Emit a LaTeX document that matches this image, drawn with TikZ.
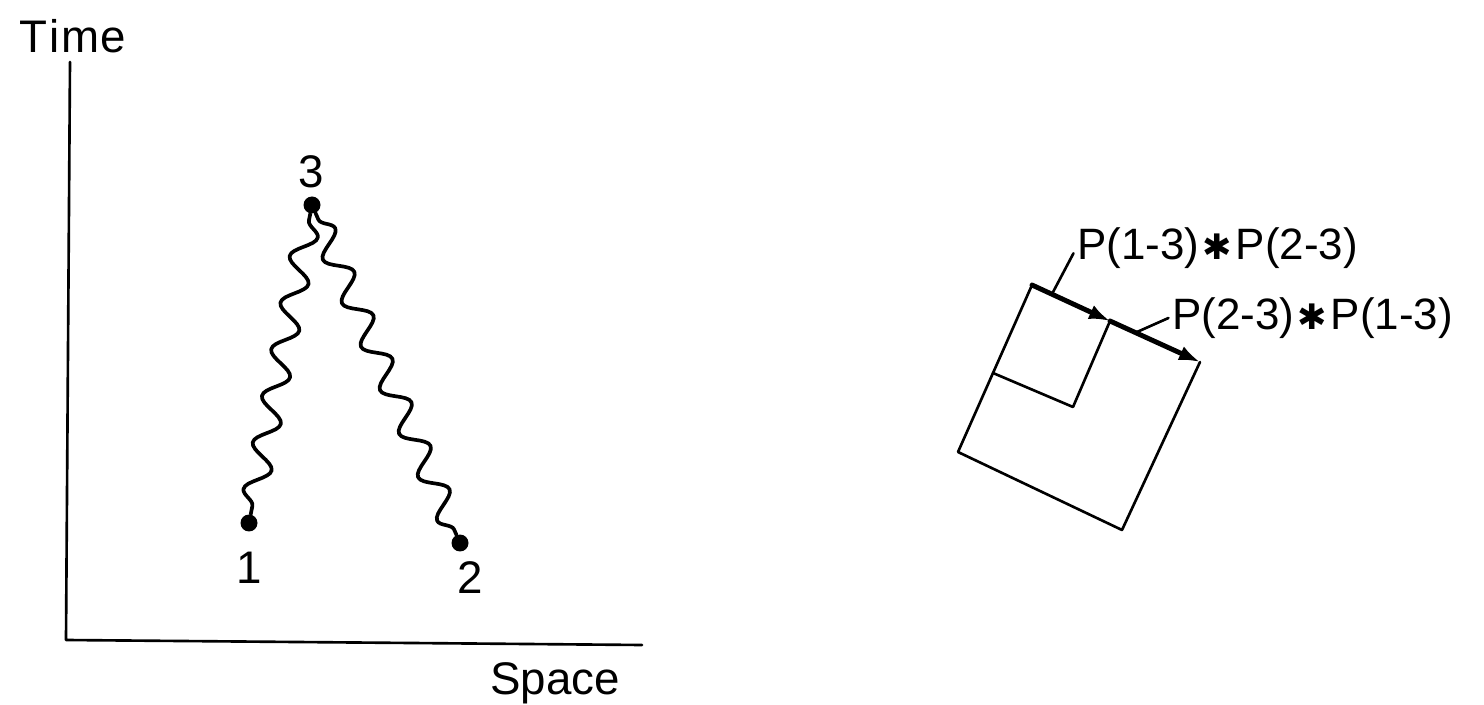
\documentclass[tikz,border=0pt]{standalone}
\usepackage{fontspec}
\setmainfont{Liberation Sans}
\newfontfamily\symfont{DejaVu Sans}
\usetikzlibrary{decorations.pathmorphing,arrows.meta}
\begin{document}
\begin{tikzpicture}[x=0.02cm,y=-0.02cm, line join=round, line cap=round,
 thinline/.style={line width=1.5pt},
 thickline/.style={line width=2.8pt, -{Latex[length=0.42cm,width=0.3cm]}},
 wavy/.style={line width=2.1pt, decorate, decoration={snake, segment length=0.95cm, amplitude=0.24cm, pre length=4pt, post length=3pt}},
 dotnode/.style={circle, fill, inner sep=0pt, minimum size=0.34cm},
 lbl/.style={font=\fontsize{26}{28}\selectfont, inner sep=0pt},
 plbl/.style={font=\fontsize{25}{28}\selectfont, inner sep=0pt, anchor=west}]
\useasboundingbox (0,0) rectangle (1484,705);
% axes
\coordinate (ytop) at (70,62);
\coordinate (orig) at (66,640);
\coordinate (xend) at (642,645);
\draw[thinline] (ytop) -- (orig) -- (xend);
\node[lbl] (tlab) at (73,36) {T\kern1pt i\kern1pt m\kern1pt e};
\node[lbl] (slab) at (555,683) {Space};
% events
\node[dotnode] (n3) at (312,205) {};
\node[dotnode] (n1) at (249,523) {};
\node[dotnode] (n2) at (460,543) {};
\node[lbl] (l3) at (311,172) {3};
\node[lbl] (l1) at (249,568) {1};
\node[lbl] (l2) at (470,578) {2};
\draw[wavy] (n3) -- (n1);
\draw[wavy] (n3) -- (n2);
% squares
\coordinate (A) at (1032,285);
\coordinate (B) at (1200,362);
\coordinate (C) at (1122,530);
\coordinate (D) at (958,452);
\coordinate (M) at (1110,321);
\coordinate (N) at (1073,407);
\coordinate (E) at (993,373);
\draw[thinline] (A) -- (D) -- (C) -- (B);
\draw[thinline] (E) -- (N) -- (M);
\draw[thickline] (A) -- (M);
\draw[thickline] (M) -- (B);
% labels
\node[plbl] (p1) at (1077,248) {P(1-3)\kern2pt{\symfont\fontsize{20}{22}\selectfont ✱}\kern2pt P(2-3)};
\node[plbl] (p2) at (1172,318) {P(2-3)\kern2pt{\symfont\fontsize{20}{22}\selectfont ✱}\kern2pt P(1-3)};
\coordinate (q1) at (1052,294);
\coordinate (q2) at (1137,332);
\draw[thinline] (q1) -- ([xshift=-2pt,yshift=-3pt]p1.west);
\draw[thinline] (q2) -- ([xshift=-2pt]p2.west);
\end{tikzpicture}
\end{document}
